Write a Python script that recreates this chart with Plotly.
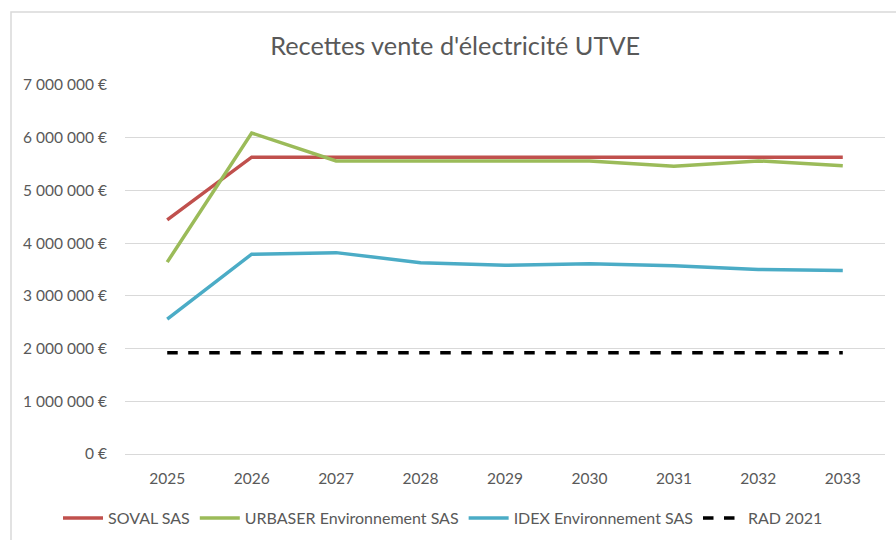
import plotly.graph_objects as go

years = ["2025", "2026", "2027", "2028", "2029", "2030", "2031", "2032", "2033"]
soval = [4440000, 5630000, 5630000, 5630000, 5630000, 5630000, 5630000, 5630000, 5630000]
urbaser = [3640000, 6090000, 5560000, 5560000, 5560000, 5560000, 5460000, 5560000, 5470000]
idex = [2560000, 3790000, 3820000, 3630000, 3580000, 3610000, 3570000, 3500000, 3480000]
rad2021 = [1920000] * 9

series = [
    ("SOVAL SAS", soval, "#C0504D", "solid"),
    ("URBASER Environnement SAS", urbaser, "#9BBB59", "solid"),
    ("IDEX Environnement SAS", idex, "#4BACC6", "solid"),
    ("RAD 2021", rad2021, "#000000", "dash"),
]

fig = go.Figure()
for name, vals, color, dash in series:
    fig.add_trace(go.Scatter(
        x=years, y=vals, name=name, mode="lines",
        line=dict(color=color, width=3.5, dash=dash),
    ))

font_family = "Lato, 'Liberation Sans', sans-serif"
fig.update_layout(
    width=896, height=540,
    margin=dict(l=125, r=11, t=85, b=86, autoexpand=False),
    paper_bgcolor="white", plot_bgcolor="white",
    separators=", ",
    font=dict(family=font_family, color="#595959", size=15.5),
    title=dict(text="Recettes vente d'électricité UTVE", x=0.508, xanchor="center",
               y=1 - 46 / 540, yanchor="middle",
               font=dict(size=25.3, color="#595959", family=font_family)),
    xaxis=dict(type="category", range=[-0.5, 8.5], showgrid=False, showline=False,
               ticks="outside", ticklen=10, tickcolor="rgba(0,0,0,0)", automargin=False,
               tickfont=dict(size=15.5, color="#595959")),
    yaxis=dict(range=[0, 7000000], dtick=1000000, tickformat=",.0f", ticksuffix=" €",
               showgrid=True, gridcolor="#D9D9D9", gridwidth=1, zeroline=True,
               zerolinecolor="#D9D9D9", zerolinewidth=1, showline=False,
               ticks="outside", ticklen=14, tickcolor="rgba(0,0,0,0)", automargin=False,
               tickfont=dict(size=15.5, color="#595959")),
    legend=dict(orientation="h", x=(58 - 125) / 760, xanchor="left",
                y=(454 - 518) / 369, yanchor="middle",
                font=dict(size=16, color="#595959"), itemwidth=40,
                tracegroupgap=0),
    showlegend=True,
)

# chart border (Excel chart area frame)
fig.add_shape(type="rect", xref="paper", yref="paper",
              x0=(11 - 125) / 760, x1=(900 - 125) / 760,
              y0=(454 - 560) / 369, y1=(454 - 12) / 369,
              line=dict(color="#D9D9D9", width=1.5), layer="below")

fig.write_html("out.html", config={"displayModeBar": False},
               post_script="document.body.style.margin='0';")
